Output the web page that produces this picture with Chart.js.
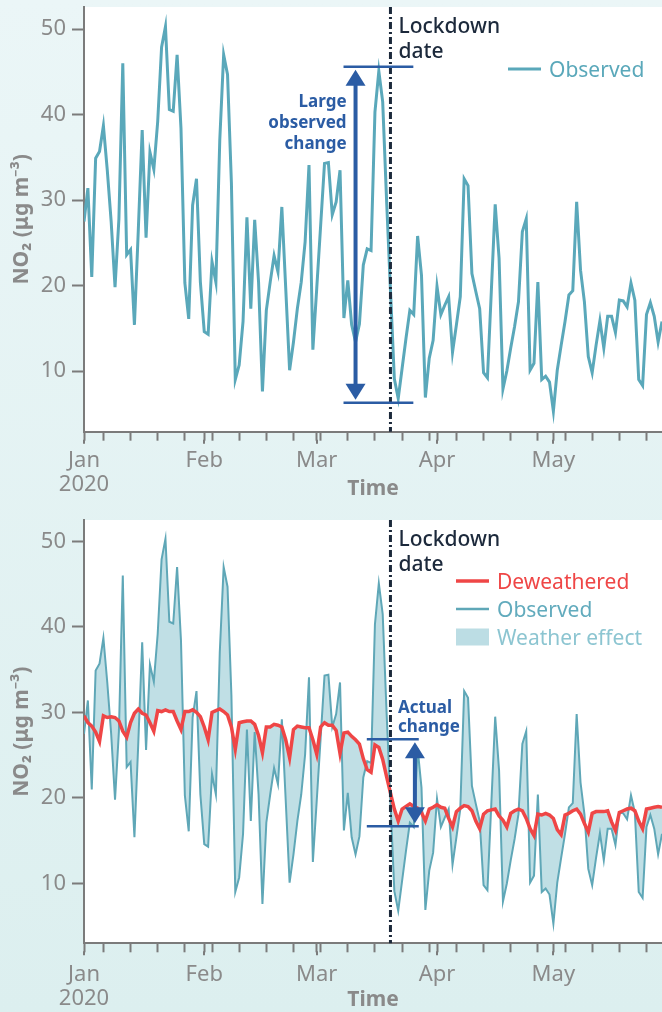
<!DOCTYPE html>
<html>
<head>
<meta charset="utf-8">
<script src="https://cdn.jsdelivr.net/npm/chart.js@4.4.1/dist/chart.umd.min.js"></script>
<style>
  html, body { margin: 0; padding: 0; }
  body {
    width: 662px; height: 1012px; overflow: hidden; position: relative;
    background: linear-gradient(#ebf6f7, #dcefef);
  }
  canvas { position: absolute; left: 0; display: block; }
  #chart-top { top: 0; }
  #chart-bottom { top: 510px; }
</style>
</head>
<body>
<canvas id="chart-top" width="662" height="510"></canvas>
<canvas id="chart-bottom" width="662" height="502"></canvas>
<script>
// daily NO2, day 0 = 1 Jan 2020
const observed = [
  27.5, 31.4, 21.0, 34.9, 35.7, 38.7, 33.5, 27.5, 19.8, 27.8,
  46.0, 23.6, 24.2, 15.4, 26.5, 38.2, 25.6, 35.6, 33.6, 39.2,
  47.9, 50.3, 40.6, 40.4, 47.0, 38.4, 20.3, 16.1, 29.4, 32.5,
  20.4, 14.6, 14.3, 22.8, 20.4, 37.0, 47.0, 44.7, 32.0, 9.0,
  10.7, 15.8, 28.0, 17.3, 27.7, 20.4, 7.6, 17.1, 20.4, 23.5,
  21.6, 29.2, 19.7, 10.1, 13.4, 17.3, 20.4, 25.1, 34.1, 12.5,
  19.7, 27.0, 34.3, 34.4, 28.3, 29.8, 33.5, 16.2, 20.6, 15.4,
  13.4, 15.5, 22.4, 24.3, 24.1, 40.3, 45.1, 41.5, 30.0, 19.5,
  9.1, 6.8, 10.3, 13.8, 17.1, 16.6, 25.8, 21.2, 6.9, 11.5,
  13.6, 19.9, 16.6, 17.7, 18.7, 12.2, 15.4, 18.7, 32.5, 31.7,
  21.4, 19.3, 17.3, 9.8, 9.2, 19.3, 29.5, 23.2, 7.9, 10.0,
  12.7, 15.2, 18.1, 26.3, 27.8, 10.1, 10.9, 20.4, 9.0, 9.4,
  8.7, 5.3, 10.1, 13.0, 15.8, 18.9, 19.4, 29.8, 21.8, 18.1,
  11.7, 9.8, 13.0, 15.9, 12.7, 16.4, 16.4, 14.5, 18.3, 18.2,
  17.5, 20.3, 18.3, 9.0, 8.3, 16.6, 18.0, 16.4, 13.4, 15.8
];
const deweathered = [
  29.6, 28.8, 28.4, 27.7, 26.6, 29.6, 29.4, 29.5, 29.4, 29.0,
  27.8, 27.1, 28.8, 29.9, 30.4, 29.9, 29.7, 28.8, 27.8, 30.2,
  30.1, 30.3, 30.1, 30.1, 29.0, 28.0, 30.1, 30.1, 30.3, 30.0,
  29.5, 28.3, 26.8, 30.0, 30.2, 30.4, 30.1, 29.7, 28.3, 25.7,
  28.8, 28.9, 29.0, 29.0, 28.6, 27.3, 25.3, 28.3, 28.3, 28.6,
  28.5, 28.3, 26.8, 24.7, 28.0, 28.4, 28.3, 28.2, 28.2, 26.8,
  25.1, 28.3, 28.8, 28.5, 28.5, 27.9, 25.2, 27.6, 27.7, 27.2,
  26.8, 26.3, 24.6, 23.3, 23.0, 26.2, 25.9, 24.5, 22.5, 20.6,
  18.7, 17.3, 18.7, 19.0, 19.3, 19.0, 18.8, 18.3, 17.3, 18.7,
  18.9, 19.2, 18.9, 18.8, 17.6, 16.6, 18.4, 18.8, 19.1, 19.0,
  18.5, 17.3, 16.4, 18.1, 18.5, 18.6, 18.7, 17.9, 17.4, 16.6,
  18.2, 18.5, 18.7, 18.5, 17.6, 16.4, 15.6, 18.1, 18.0, 18.2,
  18.0, 17.6, 16.3, 15.7, 18.0, 18.2, 18.5, 18.7, 18.1, 17.0,
  16.0, 18.2, 18.4, 18.4, 18.4, 18.5, 17.2, 16.2, 18.3, 18.5,
  18.7, 18.8, 18.5, 17.3, 16.4, 18.7, 18.8, 18.9, 19.0, 18.9
];
const days = observed.map((_, i) => i);

const MONTH_TICKS = [0, 31, 60, 91, 121];
const MONTH_LABELS = [['Jan', '2020'], 'Feb', 'Mar', 'Apr', 'May'];
const WEEK_TICKS = [5, 12, 19, 26, 33, 40, 47, 54, 61, 68, 75, 82, 89, 96, 103, 110, 117, 124, 131, 138, 145];
const Y_TICKS = [10, 20, 30, 40, 50];
const LOCKDOWN_DAY = 79;

// annotation values (days / ug m-3)
const bigChange = { day: 70, from: 66.9, to: 84.9, high: 45.6, low: 6.3 };
const actualChange = { day: 85.3, from: 72.9, to: 86.3, high: 26.85, low: 16.7 };

const TEAL = '#5aa8ba';
const TEAL_THIN = '#5fa7b7';
const RED = '#ef4646';
const FILL = '#c0dfe5';
const BLUE = '#2b5ca4';
const NAVY = '#1c293b';
const GREY = '#8a8a8a';
const AXIS = '#7b7b7b';

Chart.defaults.font.family = '"Noto Sans", sans-serif';

const whiteArea = {
  id: 'whiteArea',
  beforeDraw(chart) {
    const { ctx, chartArea: a } = chart;
    ctx.save();
    ctx.fillStyle = '#ffffff';
    ctx.fillRect(a.left, a.top, a.right - a.left, a.bottom - a.top);
    ctx.restore();
  }
};

// month ticks are a bit longer than the weekly ones
const majorTicks = {
  id: 'majorTicks',
  afterDraw(chart) {
    const { ctx, scales: { x } } = chart;
    ctx.save();
    ctx.strokeStyle = AXIS;
    ctx.lineWidth = 2;
    ctx.beginPath();
    MONTH_TICKS.forEach(d => {
      const px = Math.round(x.getPixelForValue(d));
      ctx.moveTo(px, x.top + 8);
      ctx.lineTo(px, x.top + 12);
    });
    ctx.stroke();
    ctx.restore();
  }
};

function line(ctx, x1, y1, x2, y2) {
  ctx.beginPath(); ctx.moveTo(x1, y1); ctx.lineTo(x2, y2); ctx.stroke();
}

function head(ctx, x, tip, dir) {
  ctx.beginPath();
  ctx.moveTo(x, tip);
  ctx.lineTo(x - 10, tip + dir * 16);
  ctx.lineTo(x + 10, tip + dir * 16);
  ctx.closePath();
  ctx.fill();
}

function drawLockdown(chart) {
  const { ctx, chartArea: a, scales: { x } } = chart;
  const px = x.getPixelForValue(LOCKDOWN_DAY);
  ctx.save();
  ctx.strokeStyle = NAVY;
  ctx.lineWidth = 3;
  ctx.setLineDash([7, 3, 2, 3]);
  line(ctx, px, a.top, px, a.bottom);
  ctx.setLineDash([]);
  ctx.fillStyle = NAVY;
  ctx.font = '500 21px "Noto Sans"';
  ctx.textAlign = 'left';
  ctx.fillText('Lockdown', px + 8, a.top + 25.5);
  ctx.fillText('date', px + 8, a.top + 51);
  ctx.restore();
}

function drawChange(chart, c) {
  const { ctx, scales: { x, y } } = chart;
  const ax = x.getPixelForValue(c.day);
  const l = x.getPixelForValue(c.from), r = x.getPixelForValue(c.to);
  const t = y.getPixelForValue(c.high), b = y.getPixelForValue(c.low);
  ctx.save();
  ctx.strokeStyle = BLUE;
  ctx.fillStyle = BLUE;
  ctx.lineWidth = 2.5;
  line(ctx, l, t, r, t);
  line(ctx, l, b, r, b);
  ctx.lineWidth = 4;
  line(ctx, ax, t + 18, ax, b - 18);
  head(ctx, ax, t + 3, 1);
  head(ctx, ax, b - 3, -1);
  ctx.restore();
  return { ax, t, b };
}

function drawLegend(ctx, x0, y0, items) {
  ctx.save();
  ctx.font = '21px "Noto Sans"';
  ctx.textAlign = 'left';
  items.forEach((it, i) => {
    const cy = y0 + i * 28;
    if (it.box) {
      ctx.fillStyle = it.color;
      ctx.fillRect(x0, cy - 8.5, 33, 17);
    } else {
      ctx.strokeStyle = it.color;
      ctx.lineWidth = it.width;
      line(ctx, x0, cy, x0 + 33, cy);
    }
    ctx.fillStyle = it.textColor;
    ctx.fillText(it.text, x0 + 41, cy + 7.5);
  });
  ctx.restore();
}

const topNotes = {
  id: 'topNotes',
  afterDatasetsDraw(chart) {
    const { ctx } = chart;
    drawLockdown(chart);
    const p = drawChange(chart, bigChange);
    ctx.save();
    ctx.fillStyle = BLUE;
    ctx.font = 'bold 17px "Noto Sans"';
    ctx.textAlign = 'right';
    ctx.fillText('Large', p.ax - 9, p.t + 40);
    ctx.fillText('observed', p.ax - 9, p.t + 61);
    ctx.fillText('change', p.ax - 9, p.t + 82);
    ctx.restore();
    drawLegend(ctx, 508, 69, [
      { color: TEAL, width: 3, text: 'Observed', textColor: TEAL }
    ]);
  }
};

const bottomNotes = {
  id: 'bottomNotes',
  afterDatasetsDraw(chart) {
    const { ctx } = chart;
    drawLockdown(chart);
    const p = drawChange(chart, actualChange);
    ctx.save();
    ctx.fillStyle = BLUE;
    ctx.font = 'bold 17px "Noto Sans"';
    ctx.textAlign = 'left';
    ctx.fillText('Actual', p.ax - 17, p.t - 26);
    ctx.fillText('change', p.ax - 17, p.t - 7);
    ctx.restore();
    drawLegend(ctx, 456, 71, [
      { color: RED, width: 3.5, text: 'Deweathered', textColor: RED },
      { color: TEAL_THIN, width: 2.5, text: 'Observed', textColor: '#62abbd' },
      { box: true, color: '#bcdde4', text: 'Weather effect', textColor: '#8cc5d1' }
    ]);
  }
};

function options(yMin, yMax, padTop, xHeight, titlePad, tickPad) {
  return {
    responsive: false,
    animation: false,
    layout: { padding: { top: padTop, left: 0, right: 0, bottom: 0 } },
    elements: { point: { radius: 0 }, line: { tension: 0 } },
    plugins: { legend: { display: false }, tooltip: { enabled: false } },
    scales: {
      x: {
        type: 'linear', min: 0, max: 149,
        afterFit: s => {
          s.height = xHeight;
          s.paddingLeft = 0; s.paddingRight = 0;
        },
        afterBuildTicks: s => {
          s.ticks = MONTH_TICKS.concat(WEEK_TICKS).sort((a, b) => a - b).map(v => ({ value: v }));
        },
        ticks: {
          autoSkip: false, maxRotation: 0, padding: tickPad, color: GREY,
          font: { size: 22, lineHeight: 1.1 },
          callback: v => {
            const i = MONTH_TICKS.indexOf(v);
            return i < 0 ? '' : MONTH_LABELS[i];
          }
        },
        grid: { drawOnChartArea: false, tickLength: 9, tickColor: AXIS, tickWidth: 2 },
        border: { color: AXIS, width: 2 },
        title: {
          display: true, text: 'Time', color: GREY,
          font: { size: 21, weight: 'bold', lineHeight: 1 }, padding: { top: 0, bottom: titlePad }
        }
      },
      y: {
        min: yMin, max: yMax,
        afterFit: s => {
          s.width = 84;
          s.paddingTop = 0; s.paddingBottom = 0;
        },
        afterBuildTicks: s => { s.ticks = Y_TICKS.map(v => ({ value: v })); },
        ticks: { padding: 6, color: GREY, font: { size: 22 } },
        grid: { drawOnChartArea: false, tickLength: 12, tickColor: AXIS, tickWidth: 2 },
        border: { color: AXIS, width: 2 },
        title: {
          display: true, text: 'NO₂ (μg m⁻³)', color: GREY,
          font: { size: 21, weight: 'bold' }, padding: { top: 9, bottom: 0 }
        }
      }
    }
  };
}

new Chart(document.getElementById('chart-top'), {
  type: 'line',
  data: {
    labels: days,
    datasets: [{ label: 'Observed', data: observed, borderColor: TEAL, borderWidth: 3, fill: false }]
  },
  options: options(2.9, 52.6, 7, 78.3, 10.5, 8),
  plugins: [whiteArea, majorTicks, topNotes]
});

new Chart(document.getElementById('chart-bottom'), {
  type: 'line',
  data: {
    labels: days,
    datasets: [
      { label: 'Deweathered', data: deweathered, borderColor: RED, borderWidth: 3.5, fill: false },
      { label: 'Observed', data: observed, borderColor: TEAL_THIN, borderWidth: 2, fill: '-1', backgroundColor: FILL }
    ]
  },
  options: options(3.0, 52.5, 10, 68.7, 1, 10),
  plugins: [whiteArea, majorTicks, bottomNotes]
});
</script>
</body>
</html>
